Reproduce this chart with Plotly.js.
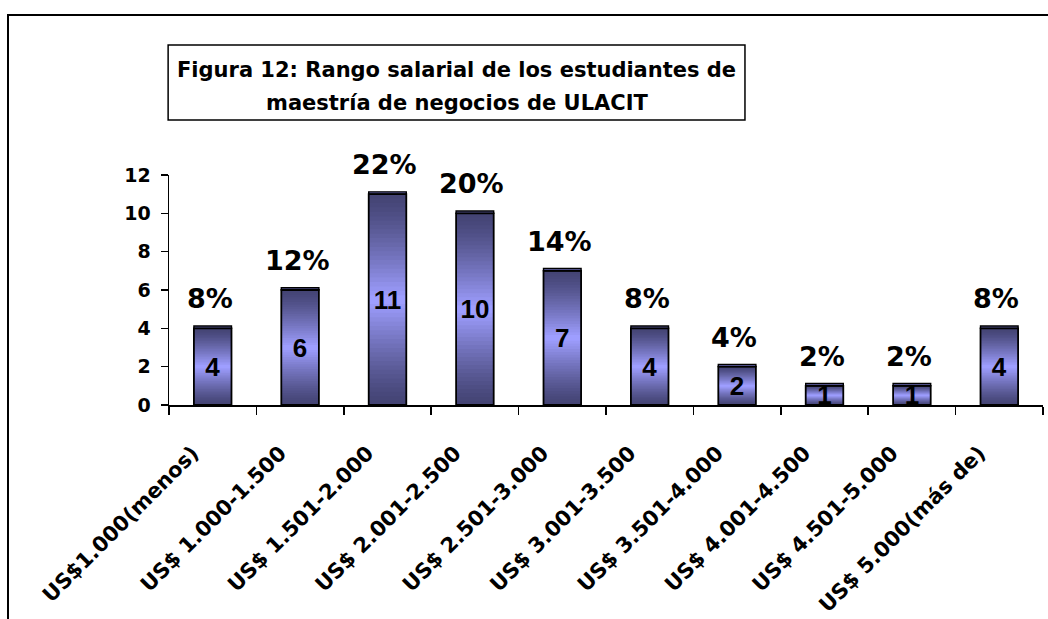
<!DOCTYPE html>
<html>
<head>
<meta charset="utf-8">
<script src="https://cdn.plot.ly/plotly-3.0.1.min.js"></script>
<style>
  html, body { margin: 0; padding: 0; background: #ffffff; overflow: hidden; }
  #frame { position: absolute; left: 7px; top: 14px; width: 1100px; height: 700px; border: 2px solid #000; box-sizing: border-box; }
  #chart { position: absolute; left: 0; top: 0; width: 1048px; height: 619px; }
</style>
</head>
<body>
<div id="frame"></div>
<div id="chart"></div>
<script>
// ---- data ----
const categories = [
  "US$1.000(menos)", "US$ 1.000-1.500", "US$ 1.501-2.000", "US$ 2.001-2.500",
  "US$ 2.501-3.000", "US$ 3.001-3.500", "US$ 3.501-4.000", "US$ 4.001-4.500",
  "US$ 4.501-5.000", "US$ 5.000(más de)"
];
const counts = [4, 6, 11, 10, 7, 4, 2, 1, 1, 4];
const percents = [8, 12, 22, 20, 14, 8, 4, 2, 2, 8];
const yTickValues = [0, 2, 4, 6, 8, 10, 12];
const titleLines = ["Figura 12: Rango salarial de los estudiantes de", "maestría de negocios de ULACIT"];

// ---- styling ----
const FONT = "DejaVu Sans, Verdana, sans-serif";
const FONT_ARIAL = "Liberation Sans, Arial, sans-serif";
const BAR_W = 0.43;
const N_SEG = 24;
const CAP = 0.12;
const dark = [68, 68, 116];
const light = [158, 158, 255];

function shade(f) {
  const c = dark.map((d, k) => Math.round(d + (light[k] - d) * f));
  return `rgb(${c[0]},${c[1]},${c[2]})`;
}

const traces = [];
// nested, centred bars: outer (dark) first, inner (light) last -> smooth vertical shading
for (let k = 0; k < N_SEG; k++) {
  const half = 0.5 * (1 - k / N_SEG);           // half height as fraction of bar
  const f = Math.pow(k / (N_SEG - 1), 1.25);
  traces.push({
    type: "bar",
    x: categories,
    y: counts.map(v => v * 2 * half),
    base: counts.map(v => v * (0.5 - half)),
    width: BAR_W,
    marker: { color: shade(f), line: { width: 0 } },
    hoverinfo: "skip",
    showlegend: false
  });
}
// top face of the bars
traces.push({
  type: "bar",
  x: categories,
  y: counts.map(() => CAP),
  base: counts,
  width: BAR_W,
  marker: { color: "#6a6ab4", line: { color: "#000", width: 1.4 } },
  hoverinfo: "skip",
  showlegend: false
});
// outline + value labels
traces.push({
  type: "bar",
  x: categories,
  y: counts,
  width: BAR_W,
  marker: { color: "rgba(0,0,0,0)", line: { color: "#000", width: 1.8 } },
  text: counts.map(String),
  textposition: "inside",
  insidetextanchor: "middle",
  textangle: 0,
  constraintext: "none",
  textfont: { family: FONT_ARIAL, size: 26, color: "#000", weight: "bold" },
  showlegend: false,
  hoverinfo: "x+y"
});

const annotations = categories.map((c, i) => ({
  x: c, y: counts[i], xref: "x", yref: "y",
  text: percents[i] + "%",
  showarrow: false,
  yanchor: "bottom",
  yshift: 12,
  xshift: -3,
  font: { family: FONT, size: 27, color: "#000", weight: "bold" }
}));
const titleY = [1.4565, 1.313];
titleLines.forEach((t, i) => annotations.push({
  xref: "paper", yref: "paper",
  x: 0.3295, y: titleY[i],
  xanchor: "center", yanchor: "middle",
  text: t,
  showarrow: false,
  font: { family: FONT, size: 21, color: "#000", weight: "bold" }
}));

const layout = {
  width: 1048, height: 619,
  margin: { l: 169, r: 5, t: 175, b: 214 },
  paper_bgcolor: "rgba(0,0,0,0)",
  plot_bgcolor: "rgba(0,0,0,0)",
  barmode: "overlay",
  showlegend: false,
  font: { family: FONT, color: "#000" },
  shapes: [{
    type: "rect", xref: "paper", yref: "paper",
    x0: -0.001, x1: 0.659, y0: 1.239, y1: 1.565,
    line: { color: "#000", width: 1.5 }, fillcolor: "#fff", layer: "below"
  }],
  xaxis: {
    type: "category",
    tickangle: -45,
    tickson: "boundaries",
    ticks: "outside", ticklen: 8, tickwidth: 1.5, tickcolor: "#000",
    showline: true, linecolor: "#000", linewidth: 1.5,
    showgrid: false, zeroline: false,
    ticklabelstandoff: 26,
    ticklabelshift: -20,
    tickfont: { family: FONT, size: 21, color: "#000", weight: "bold" }
  },
  yaxis: {
    range: [0, 12],
    tickvals: yTickValues,
    ticks: "outside", ticklen: 7, tickwidth: 1.5, tickcolor: "#000",
    showline: true, linecolor: "#000", linewidth: 1.5,
    showgrid: false, zeroline: false,
    ticklabelstandoff: 6,
    tickfont: { family: FONT, size: 19, color: "#000", weight: "bold" }
  },
  annotations: annotations
};

Plotly.newPlot("chart", traces, layout, { displayModeBar: false, staticPlot: true });
</script>
</body>
</html>
